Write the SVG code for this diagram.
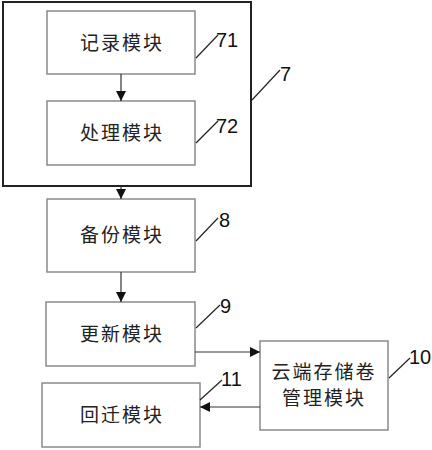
<svg xmlns="http://www.w3.org/2000/svg" width="432" height="450" viewBox="0 0 432 450">
<defs>
<marker id="arr" viewBox="0 0 10 10" refX="10" refY="5" markerWidth="10" markerHeight="10" markerUnits="userSpaceOnUse" orient="auto">
<path d="M0,0 L10,5 L0,10 z" fill="#111"/>
</marker>
<style>
.box{fill:#fff;stroke:#8a8a8a;stroke-width:1.5}
.outer{fill:none;stroke:#222;stroke-width:2}
.t{font-family:"Noto Sans CJK SC","Noto Sans CJK JP",sans-serif;font-size:19px;fill:#222;text-anchor:middle;letter-spacing:2px}
.n{font-family:"Liberation Sans",Arial,sans-serif;font-size:20px;fill:#111}
.lead{stroke:#222;stroke-width:1.2;fill:none}
.c{stroke:#333;stroke-width:1.2;fill:none;marker-end:url(#arr)}
</style>
</defs>
<rect width="432" height="450" fill="#fff"/>
<g id="n7">
<rect class="outer" x="3" y="2" width="248" height="184"/>
<line class="lead" x1="252" y1="100" x2="280" y2="70"/>
<text class="n" x="280" y="81">7</text>
</g>
<g id="n71">
<rect class="box" x="47" y="11" width="148" height="63"/>
<text class="t" x="122" y="50">记录模块</text>
<line class="lead" x1="196" y1="58" x2="218" y2="35"/>
<text class="n" x="216" y="47">71</text>
</g>
<g id="n72">
<rect class="box" x="47" y="101" width="148" height="64"/>
<text class="t" x="122" y="140">处理模块</text>
<line class="lead" x1="196" y1="143" x2="218" y2="121"/>
<text class="n" x="216" y="133">72</text>
</g>
<g id="n8">
<rect class="box" x="47" y="199" width="148" height="73"/>
<text class="t" x="122" y="242">备份模块</text>
<line class="lead" x1="196" y1="241" x2="218" y2="218"/>
<text class="n" x="219" y="227">8</text>
</g>
<g id="n9">
<rect class="box" x="46" y="302" width="149" height="64"/>
<text class="t" x="122" y="341">更新模块</text>
<line class="lead" x1="196" y1="328" x2="220" y2="305"/>
<text class="n" x="220" y="313">9</text>
</g>
<g id="n10">
<rect class="box" x="260" y="341" width="128" height="89"/>
<text class="t" x="324" y="379">云端存储卷</text>
<text class="t" x="324" y="405">管理模块</text>
<line class="lead" x1="389" y1="378" x2="410" y2="358"/>
<text class="n" x="409" y="364">10</text>
</g>
<g id="n11">
<rect class="box" x="42" y="383" width="158" height="64"/>
<text class="t" x="122" y="422">回迁模块</text>
<line class="lead" x1="200" y1="400" x2="222" y2="380"/>
<text class="n" x="221" y="386">11</text>
</g>
<g id="connectors">
<line class="c" x1="121" y1="74" x2="121" y2="101"/>
<line class="c" x1="121" y1="187" x2="121" y2="199"/>
<line class="c" x1="121" y1="272" x2="121" y2="302"/>
<line class="c" x1="195" y1="352" x2="260" y2="352"/>
<line class="c" x1="260" y1="407" x2="200" y2="407"/>
</g>
</svg>
